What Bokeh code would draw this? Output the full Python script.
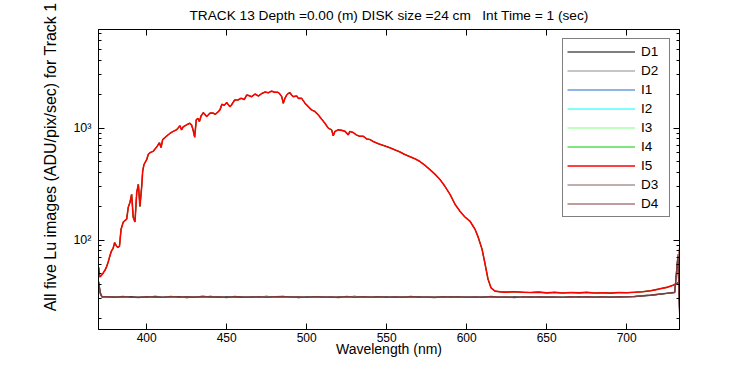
from bokeh.plotting import figure
from bokeh.models import (FixedTicker, LinearAxis, LogAxis, CustomJSTickFormatter,
                          Title, Range1d)
from bokeh.embed import file_html
from bokeh.resources import INLINE

# ---------------- data ----------------
wl_lu = [370, 370.7, 371.5, 372.5, 374, 375, 376, 377, 378, 379,
         380, 381, 382, 383, 384, 385.4, 386.4, 387.5, 388.5, 389.6,
         390.6, 391.6, 392.7, 393.8, 394.8, 395.8, 396.9, 397.5, 398.3, 400,
         401, 402, 404, 406, 408, 409, 410, 412.5, 414.6, 416.6,
         418.7, 420.8, 421.8, 422.9, 425, 427, 428, 429, 430, 431,
         432, 433, 434, 435.4, 437.5, 439.6, 441.6, 443, 444.8, 445.8,
         447, 448.5, 450, 452, 453, 455, 457, 459, 461, 462.5,
         464, 465.6, 467.7, 469.8, 472, 474, 476, 478, 480, 482,
         483, 484.4, 485.4, 486.4, 487.5, 488.5, 489.6, 490.6, 491.6, 493.8,
         494.8, 496.9, 499, 501, 503, 505.2, 507.3, 509.4, 511.4, 513.5,
         515.6, 516.6, 517.7, 519.8, 521.9, 524, 526, 527, 529, 531,
         533, 535.4, 537.5, 539.6, 541.6, 544.8, 548, 552, 555, 558,
         561, 564.6, 568, 570.8, 574, 577, 580, 583.3, 586.4, 589.6,
         592.7, 595.8, 599, 602, 605.2, 607, 609.6, 611.5, 613.3, 615.2,
         617.7, 620.8, 625, 630, 635, 640, 645, 650, 655, 660,
         665, 670, 675, 680, 685, 690, 695, 700, 705, 710,
         715, 720, 725, 729, 731.5, 732.5, 733]

lu_counts = [57, 47, 48, 50, 54, 58, 64, 72, 80, 84,
             95, 89, 86, 88, 125, 145, 149, 154, 196, 218,
             256, 160, 145, 267, 315, 200, 302, 412, 472, 523,
             580, 603, 620, 670, 740, 670, 790, 850, 900, 935,
             965, 1050, 965, 1030, 1070, 1105, 1070, 965, 830, 1185,
             1225, 1145, 1285, 1375, 1270, 1360, 1360, 1330, 1405, 1455,
             1630, 1600, 1690, 1555, 1610, 1785, 1785, 1845, 1800, 1975,
             1950, 1910, 2015, 1935, 2040, 2100, 2070, 2140, 2090, 2090,
             2040, 1910, 1665, 1845, 1975, 2040, 2070, 1975, 1910, 1935,
             1845, 1845, 1665, 1555, 1455, 1405, 1310, 1200, 1105, 1000,
             965, 855, 935, 965, 955, 935, 870, 935, 915, 870,
             845, 845, 800, 790, 760, 725, 700, 668, 640, 616,
             585, 556, 530, 503, 465, 426, 390, 348, 302, 256,
             209, 181, 160, 148, 125, 108, 83, 61, 45, 37.5,
             35, 34.5, 34.3, 34.6, 34.2, 34.0, 34.3, 33.8, 34.1, 33.7,
             34.0, 33.8, 34.1, 33.7, 33.9, 33.6, 34.0, 33.9, 34.2, 34.6,
             35.3, 36.5, 37.8, 39.5, 41, 42, 84]

wl_dark = [370, 371, 372, 375, 380, 385, 390, 395, 400, 405,
           410, 415, 420, 425, 430, 435, 440, 445, 450, 455,
           460, 465, 470, 475, 480, 485, 490, 495, 500, 505,
           510, 515, 520, 525, 530, 535, 540, 545, 550, 555,
           560, 565, 570, 575, 580, 585, 590, 595, 600, 605,
           610, 615, 620, 625, 630, 635, 640, 645, 650, 655,
           660, 665, 670, 675, 680, 685, 690, 695, 700, 705,
           710, 715, 720, 725, 730, 732, 733]

dark_D1 = [42, 33, 31.0, 30.9, 31.3, 30.7, 31.2, 31.0, 30.8, 31.4,
           31.1, 30.8, 31.3, 30.6, 31.1, 30.9, 31.4, 30.8, 31.2, 30.9,
           30.7, 31.3, 31.0, 31.4, 30.8, 31.0, 31.2, 30.6, 31.3, 30.9,
           31.2, 30.7, 31.1, 30.9, 31.4, 30.8, 31.1, 30.9, 31.2, 30.8,
           31.1, 30.9, 31.3, 30.7, 31.2, 30.8, 31.1, 30.9, 31.3, 30.7,
           31.2, 30.9, 31.1, 30.7, 31.3, 30.9, 31.2, 30.8, 31.0, 30.8,
           31.1, 30.8, 31.3, 30.9, 31.1, 30.8, 31.2, 31.0, 31.3, 31.2,
           31.7, 32.1, 32.7, 33.4, 34.0, 70, 25]

dark_D2 = [41, 33.5, 31.3, 30.7, 31.1, 31.0, 30.8, 31.3, 31.1, 30.7,
           31.2, 31.0, 30.7, 31.3, 30.9, 31.0, 30.8, 31.3, 30.9, 31.2,
           31.3, 30.9, 31.1, 31.0, 30.7, 31.4, 30.8, 31.2, 31.0, 30.8,
           31.1, 31.3, 30.8, 31.0, 31.2, 30.7, 31.3, 31.0, 30.9, 31.3,
           30.9, 31.2, 31.0, 30.8, 31.3, 31.0, 30.7, 31.2, 31.0, 31.3,
           31.1, 30.8, 31.2, 31.0, 30.9, 31.3, 30.8, 31.1, 31.2, 30.9,
           31.2, 31.0, 30.8, 31.1, 31.2, 30.9, 31.1, 31.2, 30.9, 31.5,
           31.9, 32.4, 33.0, 33.6, 34.3, 66, 23]

dark_D3 = [43, 34.5, 31.2, 31.0, 31.0, 31.2, 30.7, 30.9, 31.2, 31.1,
           30.9, 31.2, 31.0, 30.9, 31.3, 30.7, 31.1, 31.2, 30.8, 31.0,
           31.2, 31.1, 30.8, 31.2, 31.0, 30.7, 31.3, 31.0, 30.9, 31.2,
           30.8, 31.2, 31.0, 31.2, 30.9, 31.1, 30.8, 31.1, 31.0, 31.2,
           31.0, 31.1, 30.8, 31.2, 30.9, 31.1, 31.0, 30.8, 31.2, 30.9,
           30.9, 31.1, 31.0, 31.2, 30.8, 31.0, 31.1, 30.9, 31.2, 31.0,
           30.9, 31.3, 31.0, 31.2, 30.9, 31.0, 31.1, 30.9, 31.2, 31.3,
           31.9, 32.2, 32.8, 33.4, 34.1, 75, 22]

dark_D4 = [42, 34, 31.5, 31.2, 30.8, 31.4, 31.0, 30.6, 31.3, 31.0,
           30.7, 31.5, 30.9, 31.2, 30.8, 31.6, 30.9, 31.1, 30.6, 31.4,
           31.0, 30.8, 31.3, 30.7, 31.2, 31.5, 30.9, 31.1, 30.7, 31.3,
           30.9, 31.0, 30.6, 31.4, 30.8, 31.2, 30.9, 31.3, 30.7, 31.1,
           30.8, 31.4, 30.9, 31.0, 30.6, 31.3, 30.9, 31.2, 30.7, 31.1,
           30.8, 31.4, 30.9, 31.0, 30.6, 31.2, 30.8, 31.3, 30.9, 31.1,
           30.7, 31.2, 30.9, 31.3, 31.0, 31.2, 30.8, 31.3, 31.1, 31.4,
           31.8, 32.3, 32.9, 33.5, 34.2, 72, 24]

series_names = ["D1", "D2", "I1", "I2", "I3", "I4", "I5", "D3", "D4"]
series_colors = ["#000000", "#8c8c8c", "#1f6ad0", "#00ffff", "#80ff80",
                 "#00cc00", "#ff0000", "#7f5f5f", "#7f3a3a"]
series_widths = [1.2, 1.2, 1.0, 1.0, 1.0, 1.0, 1.6, 1.2, 1.2]

x_ticks = [400, 450, 500, 550, 600, 650, 700]
y_major_ticks = [100, 1000]
y_minor_ticks = [20, 30, 40, 50, 60, 70, 80, 90,
                 200, 300, 400, 500, 600, 700, 800, 900,
                 2000, 3000, 4000, 5000, 6000, 7000]

title_text = "TRACK 13 Depth =0.00 (m) DISK size =24 cm\u00a0\u00a0\u00a0Int Time = 1 (sec)"
x_label = "Wavelength (nm)"
y_label = "All five Lu images (ADU/pix/sec) for Track 1"

assert len(wl_lu) == len(lu_counts)
for d in (dark_D1, dark_D2, dark_D3, dark_D4):
    assert len(d) == len(wl_dark)

series_data = {
    "D1": (wl_dark, dark_D1),
    "D2": (wl_dark, dark_D2),
    "I1": (wl_lu, lu_counts),
    "I2": (wl_lu, lu_counts),
    "I3": (wl_lu, lu_counts),
    "I4": (wl_lu, lu_counts),
    "I5": (wl_lu, lu_counts),
    "D3": (wl_dark, dark_D3),
    "D4": (wl_dark, dark_D4),
}

FONT = "Liberation Sans"

# ---------------- figure ----------------
p = figure(width=734, height=359,
           x_range=Range1d(369.9, 733), y_range=Range1d(15.9, 7600),
           y_axis_type="log",
           output_backend="svg", toolbar_location=None,
           min_border_left=98, min_border_right=55,
           min_border_top=29, min_border_bottom=28)
p.grid.visible = False
p.outline_line_color = "black"
p.outline_line_width = 1
p.background_fill_color = "white"
p.border_fill_color = "white"

p.title.text = title_text
p.title.align = "center"
p.title.vertical_align = "top"
p.title.text_font = FONT
p.title.text_font_size = "13.7px"
p.title.text_font_style = "normal"
p.title.text_color = "black"
p.title.standoff = 10

sup = CustomJSTickFormatter(code="""
const e = Math.round(Math.log10(tick));
const m = {'0':'\u2070','1':'\u00b9','2':'\u00b2','3':'\u00b3','4':'\u2074','5':'\u2075','6':'\u2076','7':'\u2077','8':'\u2078','9':'\u2079'};
return '10' + String(e).split('').map(c => m[c]).join('');
""")

xa = p.xaxis[0]
xa.ticker = FixedTicker(ticks=x_ticks)
xa.major_tick_in = 6
xa.major_tick_out = 0
xa.minor_tick_in = 0
xa.minor_tick_out = 0
xa.axis_line_color = "black"
xa.major_tick_line_color = "black"
xa.major_label_text_font = FONT
xa.major_label_text_font_size = "12px"
xa.major_label_text_color = "black"
xa.major_label_standoff = 3
xa.axis_label = x_label
xa.axis_label_text_font = FONT
xa.axis_label_text_font_size = "14px"
xa.axis_label_text_font_style = "normal"
xa.axis_label_text_color = "black"
xa.axis_label_standoff = -4

ya = p.yaxis[0]
ya.ticker = FixedTicker(ticks=y_major_ticks, minor_ticks=y_minor_ticks)
ya.formatter = sup
ya.major_tick_in = 6
ya.major_tick_out = 0
ya.minor_tick_in = 3
ya.minor_tick_out = 0
ya.axis_line_color = "black"
ya.major_label_text_font = FONT
ya.major_label_text_font_size = "12.5px"
ya.major_label_text_color = "black"
ya.major_label_standoff = 7

# mirrored tick marks (box on): axes without visible labels
top = LinearAxis(ticker=FixedTicker(ticks=x_ticks),
                 major_tick_in=6, major_tick_out=0, minor_tick_in=0, minor_tick_out=0,
                 major_label_text_font_size="1px", major_label_text_alpha=0,
                 major_label_standoff=0, axis_line_color="black")
p.add_layout(top, "above")
right = LogAxis(ticker=FixedTicker(ticks=y_major_ticks, minor_ticks=y_minor_ticks),
                major_tick_in=6, major_tick_out=0, minor_tick_in=3, minor_tick_out=0,
                major_label_text_font_size="1px", major_label_text_alpha=0,
                major_label_standoff=0, axis_line_color="black")
p.add_layout(right, "right")

p.add_layout(Title(text=y_label, align="right", offset=-27, standoff=24,
                   text_font=FONT, text_font_size="16px", text_font_style="normal",
                   text_color="black"), "left")

for name, color, w in zip(series_names, series_colors, series_widths):
    xs, ys = series_data[name]
    p.line(xs, ys, line_color=color, line_width=w, legend_label=name)

lg = p.legend[0]
lg.location = "top_right"
lg.margin = 9
lg.padding = 4
lg.spacing = 2
lg.label_height = 17
lg.glyph_height = 17
lg.glyph_width = 68
lg.label_standoff = 6
lg.label_width = 24
lg.border_line_color = "black"
lg.border_line_width = 1
lg.background_fill_color = "white"
lg.background_fill_alpha = 1
lg.label_text_font = FONT
lg.label_text_font_size = "13.5px"
lg.label_text_color = "black"

open("out.html", "w").write(file_html(p, INLINE))
